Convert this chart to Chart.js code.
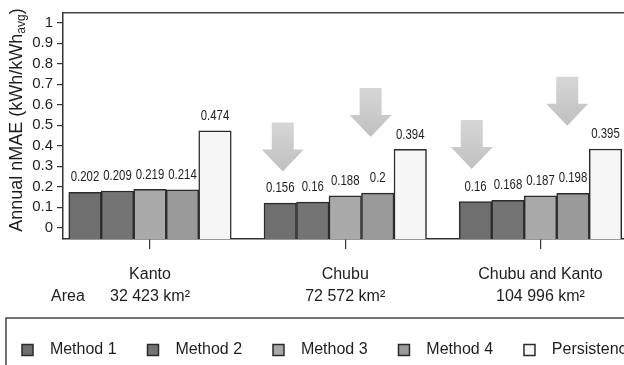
<!DOCTYPE html>
<html>
<head>
<meta charset="utf-8">
<script src="https://cdn.jsdelivr.net/npm/chart.js@4/dist/chart.umd.min.js"></script>
<style>
  html, body { margin: 0; padding: 0; background: #fff; overflow: hidden; }
  #wrap { width: 624px; height: 365px; overflow: hidden; }
  #box { width: 680px; height: 368px; }
</style>
</head>
<body>
<div id="wrap"><div id="box"><canvas id="nmaeChart"></canvas></div></div>
<script>
const regions = ["Kanto", "Chubu", "Chubu and Kanto"];
const areas = ["32 423 km²", "72 572 km²", "104 996 km²"];
const seriesNames = ["Method 1", "Method 2", "Method 3", "Method 4", "Persistence"];

// bar heights as they are drawn in the figure
const method1 = [0.173, 0.120, 0.127];
const method2 = [0.179, 0.125, 0.134];
const method3 = [0.187, 0.155, 0.155];
const method4 = [0.185, 0.169, 0.168];
const persistence = [0.472, 0.382, 0.384];

// numbers printed above the bars
const method1Text = ["0.202", "0.156", "0.16"];
const method2Text = ["0.209", "0.16", "0.168"];
const method3Text = ["0.219", "0.188", "0.187"];
const method4Text = ["0.214", "0.2", "0.198"];
const persistenceText = ["0.474", "0.394", "0.395"];

const yTicks = [0, 0.1, 0.2, 0.3, 0.4, 0.5, 0.6, 0.7, 0.8, 0.9, 1];

// big grey arrows: x in region index units, tip in nMAE units
const arrows = [
  { x: 0.68, tip: 0.274 },
  { x: 1.13, tip: 0.442 },
  { x: 1.648, tip: 0.286 },
  { x: 2.137, tip: 0.497 },
];

const yMin = -0.055;
const yMax = 1.047;
const xMin = -0.4456;
const xMax = 2.7146;

const seriesValues = [method1, method2, method3, method4, persistence];
const seriesText = [method1Text, method2Text, method3Text, method4Text, persistenceText];
const seriesColors = ["#6f6f6f", "#747474", "#a9a9a9", "#9a9a9a", "#f6f6f6"];

const sans = "'Liberation Sans', Arial, sans-serif";
const ink = "#1e1e1e";

const extras = {
  id: "extras",
  afterDatasetsDraw(chart) {
    const ctx = chart.ctx;
    const x = chart.scales.x;
    const y = chart.scales.y;

    // arrows
    arrows.forEach((a) => {
      const cx = x.getPixelForValue(a.x);
      const tipY = y.getPixelForValue(a.tip);
      const top = tipY - 49;
      const headTop = tipY - 22;
      const grad = ctx.createLinearGradient(0, top, 0, tipY);
      grad.addColorStop(0, "#d6d6d6");
      grad.addColorStop(1, "#c0c0c0");
      ctx.save();
      ctx.fillStyle = grad;
      ctx.beginPath();
      ctx.moveTo(cx - 11, top);
      ctx.lineTo(cx + 11, top);
      ctx.lineTo(cx + 11, headTop);
      ctx.lineTo(cx + 21, headTop);
      ctx.lineTo(cx, tipY);
      ctx.lineTo(cx - 21, headTop);
      ctx.lineTo(cx - 11, headTop);
      ctx.closePath();
      ctx.fill();
      ctx.restore();
    });

    // value labels, condensed like the original
    chart.data.datasets.forEach((ds, i) => {
      chart.getDatasetMeta(i).data.forEach((bar, j) => {
        ctx.save();
        ctx.translate(bar.x, bar.y - 15);
        ctx.scale(0.76, 1);
        ctx.font = "15px " + sans;
        ctx.fillStyle = ink;
        ctx.textAlign = "center";
        ctx.textBaseline = "middle";
        ctx.fillText(seriesText[i][j], 0, 0);
        ctx.restore();
      });
    });
  },
  afterDraw(chart) {
    const ctx = chart.ctx;
    const legend = chart.legend;

    // legend frame (runs off the right and bottom edge)
    ctx.save();
    ctx.strokeStyle = "#444";
    ctx.lineWidth = 1.5;
    ctx.beginPath();
    ctx.moveTo(6, chart.height + 5);
    ctx.lineTo(6, legend.top - 2);
    ctx.lineTo(chart.width + 5, legend.top - 2);
    ctx.stroke();
    ctx.restore();

    // y axis title with subscript
    ctx.save();
    ctx.translate(17, 120);
    ctx.rotate(-Math.PI / 2);
    ctx.fillStyle = ink;
    ctx.textBaseline = "middle";
    ctx.textAlign = "left";
    const main = "Annual nMAE (kWh/kWh";
    ctx.font = "18px " + sans;
    const w1 = ctx.measureText(main).width;
    const w3 = ctx.measureText(")").width;
    ctx.font = "12px " + sans;
    const w2 = ctx.measureText("avg").width;
    let pos = -(w1 + w2 + w3) / 2;
    ctx.font = "18px " + sans;
    ctx.fillText(main, pos, 0);
    pos += w1;
    ctx.font = "12px " + sans;
    ctx.fillText("avg", pos, 5);
    pos += w2;
    ctx.font = "18px " + sans;
    ctx.fillText(")", pos, 0);
    ctx.restore();

    // "Area" in front of the area row
    ctx.save();
    ctx.font = "16px " + sans;
    ctx.fillStyle = ink;
    ctx.textBaseline = "middle";
    ctx.textAlign = "left";
    ctx.fillText("Area", 51, chart.scales.x.top + 10 + 15 + 22 + 11);
    ctx.restore();
  },
};

const ctx = document.querySelector("#nmaeChart").getContext("2d");
new Chart(ctx, {
  type: "bar",
  data: {
    datasets: seriesNames.map((name, i) => ({
      label: name,
      data: seriesValues[i].map((v, j) => ({ x: j, y: v })),
      backgroundColor: seriesColors[i],
      borderColor: "#2b2b2b",
      borderWidth: 1.5,
      barThickness: 32.5,
      base: yMin,
    })),
  },
  options: {
    responsive: true,
    maintainAspectRatio: false,
    devicePixelRatio: 1,
    animation: false,
    layout: { padding: { top: 13, left: 0, right: 0, bottom: 0 } },
    scales: {
      x: {
        type: "linear",
        position: "bottom",
        offset: false,
        min: xMin,
        max: xMax,
        afterBuildTicks: (axis) => {
          axis.ticks = regions.map((r, i) => ({ value: i }));
        },
        afterFit: (scale) => {
          scale.height = 81;
        },
        ticks: {
          callback: (value) => [regions[value], areas[value]],
          font: { family: sans, size: 16, lineHeight: 1.375 },
          color: ink,
          padding: 15,
          maxRotation: 0,
          autoSkip: false,
        },
        grid: { offset: false, drawOnChartArea: false, tickLength: 10, color: "#333", lineWidth: 1.2 },
        border: { color: "#333", width: 1.5 },
      },
      x2: {
        type: "linear",
        position: "top",
        display: true,
        offset: false,
        min: 0,
        max: 1,
        afterFit: (scale) => {
          scale.height = 0;
        },
        ticks: { display: false },
        grid: { display: false, drawTicks: false },
        border: { display: true, color: "#444", width: 1.5 },
      },
      y: {
        type: "linear",
        min: yMin,
        max: yMax,
        afterBuildTicks: (axis) => {
          axis.ticks = yTicks.map((v) => ({ value: v }));
        },
        afterFit: (scale) => {
          scale.width = 63;
        },
        ticks: {
          callback: (value) => String(value),
          font: { family: sans, size: 15 },
          color: ink,
          padding: 4,
        },
        grid: { drawOnChartArea: false, tickLength: 6, color: "#333", lineWidth: 1.2 },
        border: { color: "#333", width: 1.5 },
      },
    },
    plugins: {
      legend: {
        position: "bottom",
        align: "start",
        labels: {
          boxWidth: 11,
          boxHeight: 11,
          padding: 22,
          color: ink,
          font: { family: sans, size: 16 },
          generateLabels: (chart) =>
            Chart.defaults.plugins.legend.labels
              .generateLabels(chart)
              .map((item) => ({ ...item, text: "  " + item.text + "  " })),
        },
      },
      tooltip: { enabled: false },
    },
  },
  plugins: [extras],
});
</script>
</body>
</html>
